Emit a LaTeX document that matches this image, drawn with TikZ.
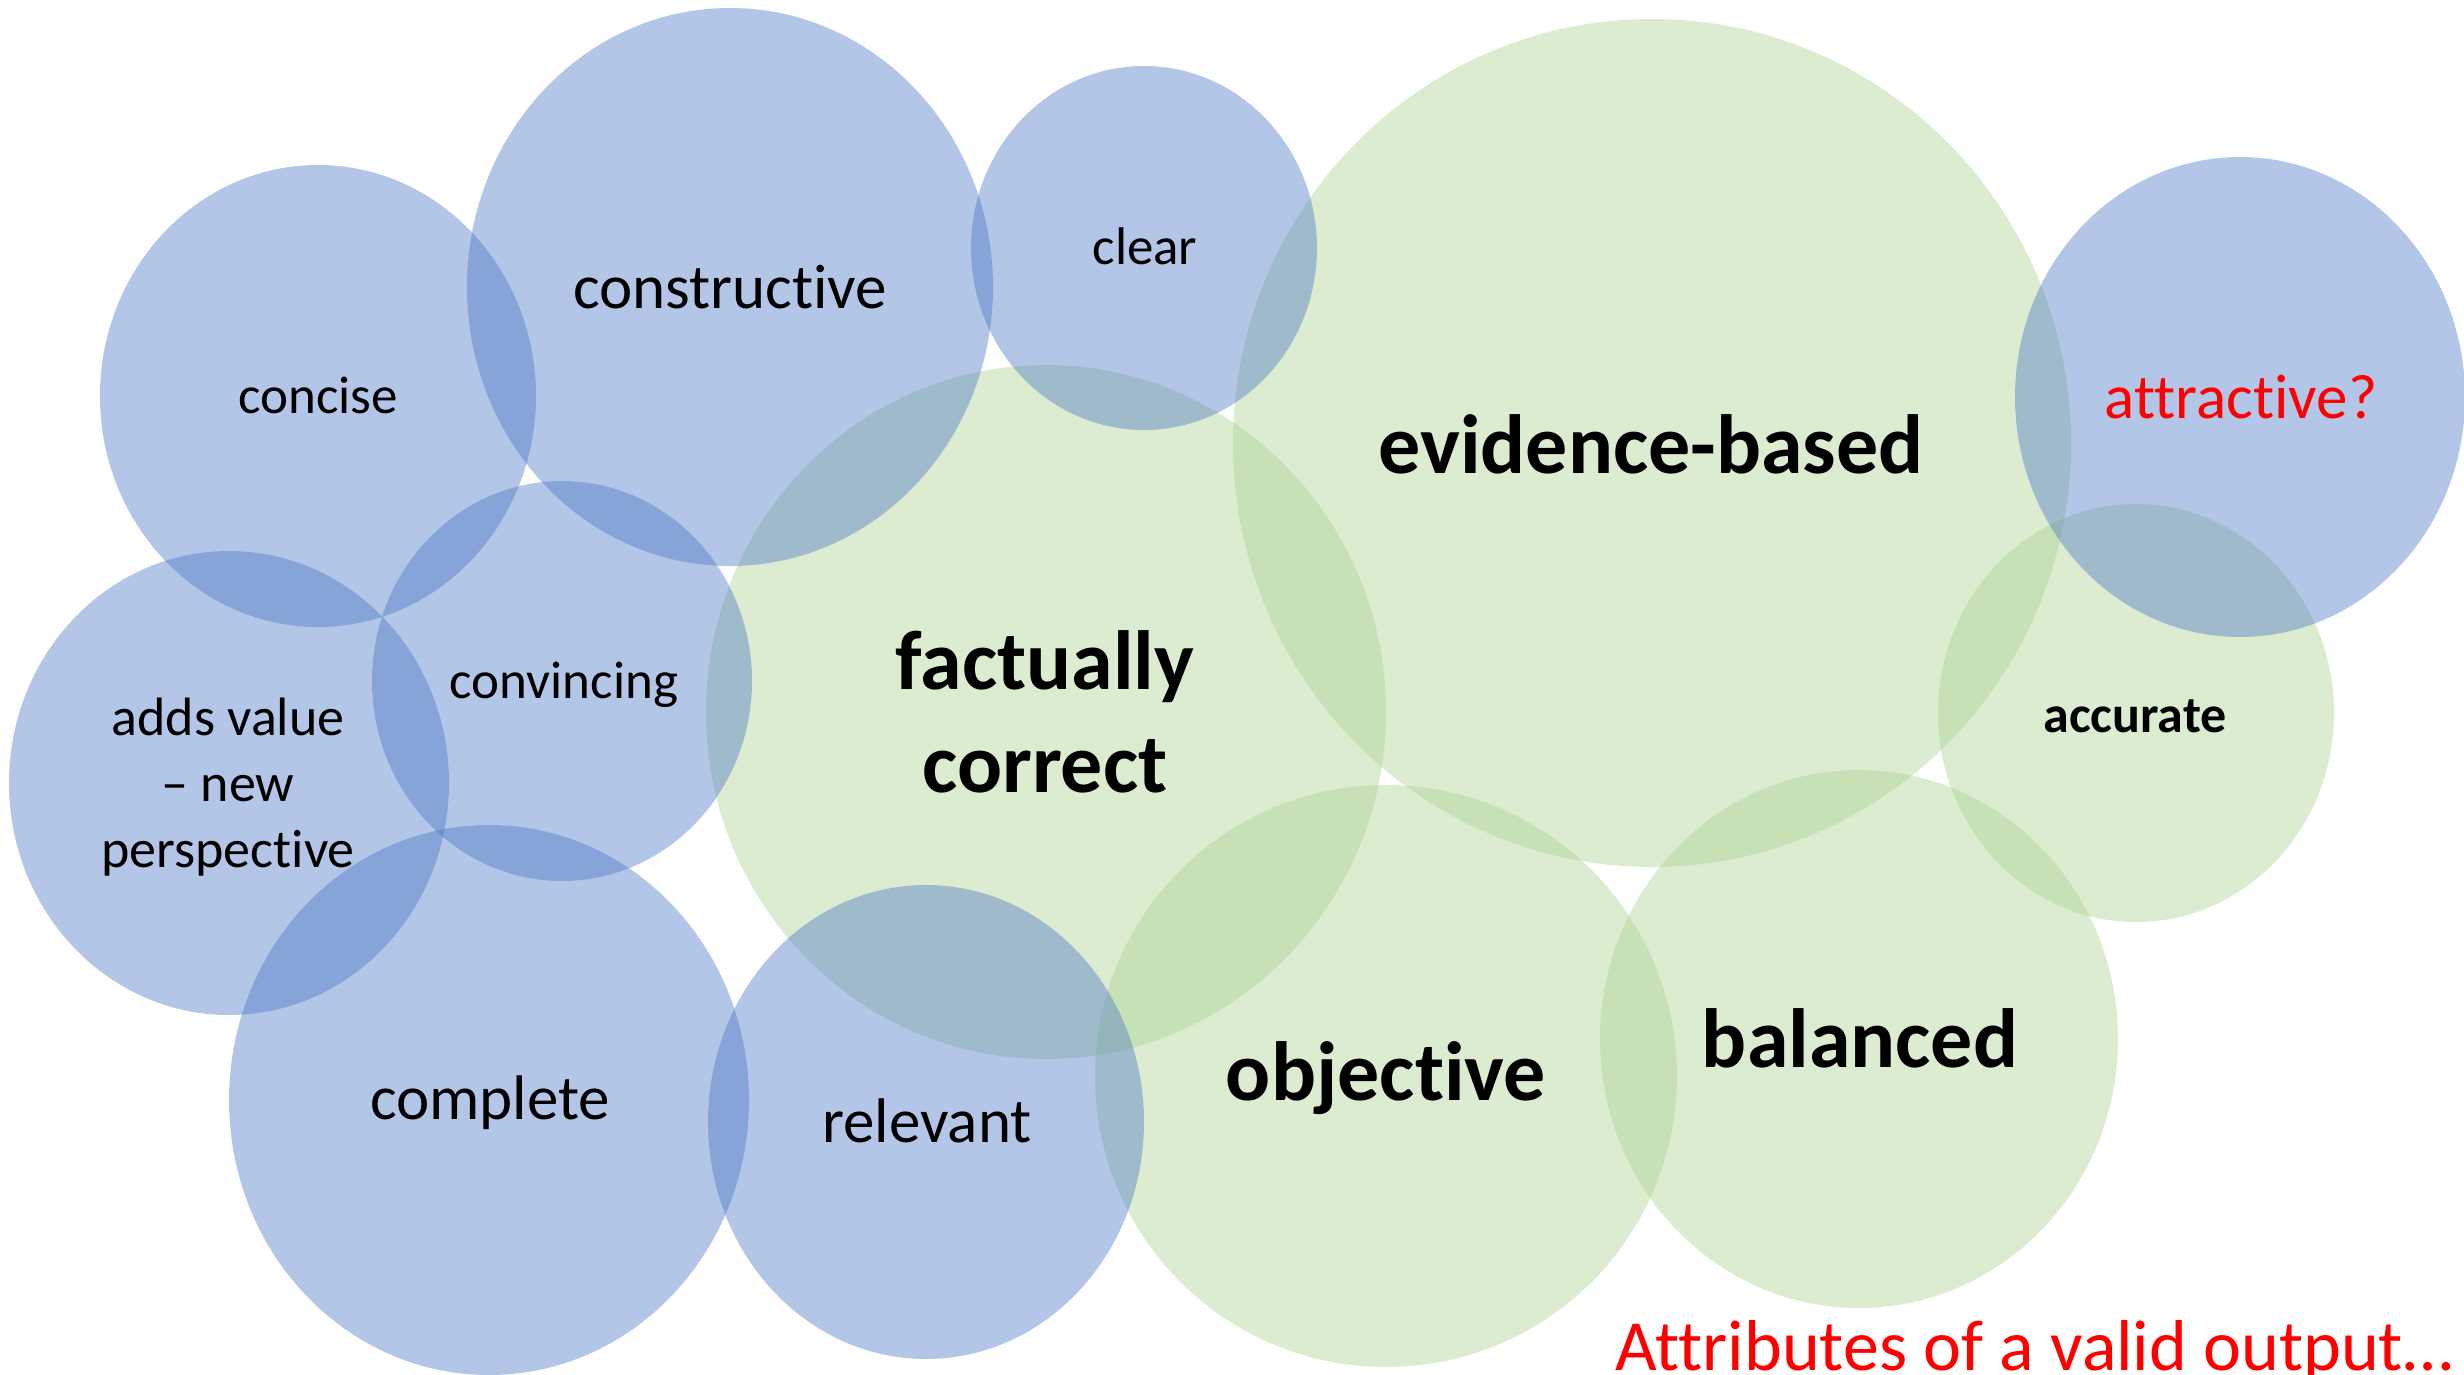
\documentclass[tikz,border=0pt]{standalone}
\usepackage{fontspec}
\setmainfont{Carlito}[Ligatures={TeX,NoCommon}]
\definecolor{blobblue}{HTML}{4472C4}
\definecolor{blobgreen}{HTML}{A9D18E}
\definecolor{notered}{HTML}{FF0000}
\begin{document}
\begin{tikzpicture}[x=1pt,y=-1pt,
  blueblob/.style={fill=blobblue,fill opacity=0.4},
  greenblob/.style={fill=blobgreen,fill opacity=0.4},
  lbl/.style={inner sep=0pt,outer sep=0pt,text=black},
  small/.style={lbl,font=\fontsize{53}{65}\selectfont},
  medium/.style={lbl,font=\fontsize{63}{77}\selectfont},
  big/.style={lbl,font=\fontsize{84}{102.5}\selectfont\bfseries},
]
\fill[white] (0,0) rectangle (2464,1374);
\useasboundingbox (0,0) rectangle (2464,1374);

% green attributes (drawn first, blue ones sit on top)
\fill[greenblob] (1652,443)  ellipse [x radius=419pt, y radius=424pt];
\fill[greenblob] (1046,712)  ellipse [x radius=340pt, y radius=347pt];
\fill[greenblob] (2136,713)  ellipse [x radius=198pt, y radius=209pt];
\fill[greenblob] (1386,1076) ellipse [x radius=291pt, y radius=291pt];
\fill[greenblob] (1859,1039) ellipse [x radius=259pt, y radius=269pt];

% blue attributes
\fill[blueblob] (318,396)   ellipse [x radius=218pt, y radius=231pt];
\fill[blueblob] (730,287)   ellipse [x radius=263pt, y radius=279pt];
\fill[blueblob] (1144,248)  ellipse [x radius=173pt, y radius=182pt];
\fill[blueblob] (2240,397)  ellipse [x radius=225pt, y radius=240pt];
\fill[blueblob] (562,681)   ellipse [x radius=190pt, y radius=200pt];
\fill[blueblob] (229,783)   ellipse [x radius=220pt, y radius=232pt];
\fill[blueblob] (489,1100)  ellipse [x radius=260pt, y radius=275pt];
\fill[blueblob] (926,1122)  ellipse [x radius=218pt, y radius=237pt];

% labels
\node[small,anchor=base]  (concise)      at (318,413)  {concise};
\node[medium,anchor=base] (constructive) at (730,308)  {constructive};
\node[small,anchor=base]  (clear)        at (1145,264) {clear};
\node[big,anchor=base]    (evidence)     at (1651,473) {evidence-based};
\node[medium,anchor=base,text=notered] (attractive) at (2241,418) {attractive?};
\node[lbl,anchor=base,font=\fontsize{52}{63}\selectfont\bfseries] (accurate) at (2135,732) {accurate};
\node[big,align=center]   (factual)      at (1045,712) {factually\\correct};
\node[small,anchor=base]  (convincing)   at (564,698)  {convincing};
\node[lbl,align=center,font=\fontsize{54}{66}\selectfont] (addsvalue) at (228,787) {adds value\\– new\\perspective};
\node[medium,anchor=base] (complete)     at (490,1119) {complete};
\node[medium,anchor=base] (relevant)     at (927,1142) {relevant};
\node[big,anchor=base]    (objective)    at (1386,1100) {objective};
\node[big,anchor=base]    (balanced)     at (1860,1067) {balanced};
\node[lbl,anchor=base east,text=notered,font=\fontsize{72}{88}\selectfont] (caption) at (2453,1370) {Attributes of a valid output…};
\end{tikzpicture}
\end{document}
